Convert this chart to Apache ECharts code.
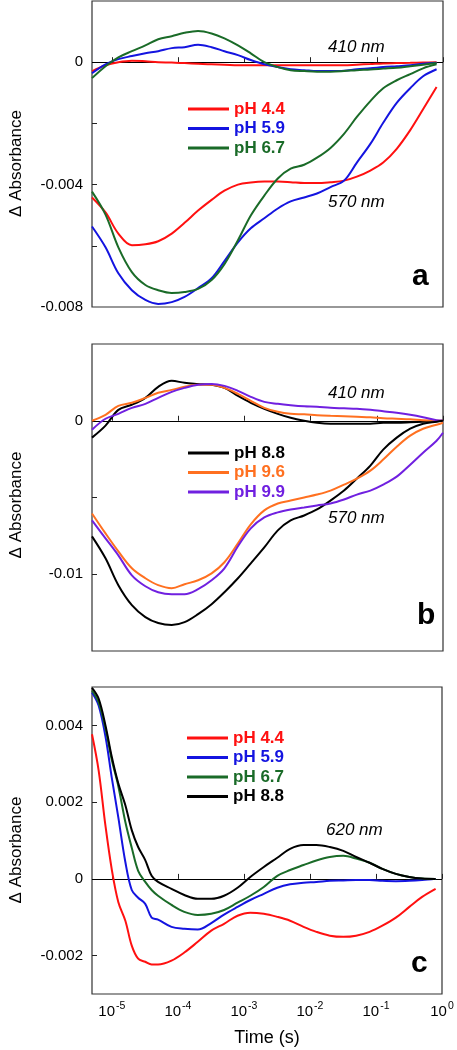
<!DOCTYPE html>
<html>
<head>
<meta charset="utf-8">
<script src="https://cdn.jsdelivr.net/npm/echarts@6/dist/echarts.min.js"></script>
<style>html,body{margin:0;padding:0;background:#fff}#c{width:457px;height:1050px}</style>
</head>
<body>
<div id="c"></div>
<script>
// ---- time axes (s) ----
const timeA = [5e-6, 8e-6, 1.25e-5, 2e-5, 3.2e-5, 5e-5, 8e-5, 1.25e-4, 2e-4, 3.2e-4, 5e-4, 8e-4, 1.25e-3, 2e-3, 3.2e-3, 5e-3, 8e-3, 1.25e-2, 2e-2, 3.2e-2, 5e-2, 8e-2, 0.125, 0.2, 0.32, 0.5, 0.8];
const timeB = [5e-6, 8e-6, 1.25e-5, 2e-5, 3.2e-5, 5e-5, 8e-5, 1.25e-4, 2e-4, 3.2e-4, 5e-4, 8e-4, 1.25e-3, 2e-3, 3.2e-3, 5e-3, 8e-3, 1.25e-2, 2e-2, 3.2e-2, 5e-2, 8e-2, 0.125, 0.2, 0.32, 0.5, 0.8, 1.0];
const timeC = [5e-6, 6.3e-6, 8e-6, 1e-5, 1.25e-5, 1.6e-5, 2e-5, 2.5e-5, 3.2e-5, 4e-5, 5e-5, 8e-5, 1.25e-4, 2e-4, 3.2e-4, 5e-4, 8e-4, 1.25e-3, 2e-3, 3.2e-3, 5e-3, 8e-3, 1.25e-2, 2e-2, 3.2e-2, 5e-2, 8e-2, 0.125, 0.2, 0.32, 0.5, 0.8];

// ---- panel a ----
const a570_pH44 = [-0.00442, -0.00491, -0.0056, -0.00598, -0.00595, -0.00585, -0.0056, -0.00525, -0.00485, -0.0045, -0.0042, -0.0040, -0.00393, -0.0039, -0.0039, -0.00392, -0.00395, -0.00395, -0.00392, -0.00387, -0.00374, -0.00354, -0.00328, -0.00283, -0.00222, -0.00154, -0.00081];
const a570_pH59 = [-0.00537, -0.00605, -0.0069, -0.00745, -0.00777, -0.0079, -0.00784, -0.00767, -0.00738, -0.00706, -0.0065, -0.00589, -0.00543, -0.0051, -0.00478, -0.00455, -0.00442, -0.00429, -0.00408, -0.00387, -0.00328, -0.00267, -0.00198, -0.00133, -0.00085, -0.00046, -0.00023];
const a570_pH67 = [-0.00423, -0.00498, -0.00605, -0.00686, -0.00728, -0.00745, -0.00754, -0.00751, -0.00741, -0.00712, -0.0066, -0.00582, -0.00501, -0.00436, -0.0038, -0.00348, -0.00335, -0.00312, -0.0028, -0.00234, -0.00179, -0.00127, -0.00085, -0.00059, -0.00039, -0.0002, -0.00007];
const a410_pH44 = [-0.0003, -0.0001, 0.0, 0.00005, 0.00003, 0.0, -0.00001, -0.00003, -0.00005, -0.00007, -0.00008, -0.0001, -0.0001, -0.0001, -0.0001, -0.0001, -0.0001, -0.0001, -0.0001, -0.0001, -0.00008, -0.00006, -0.00004, -0.00003, -0.00002, -0.00001, 0];
const a410_pH59 = [-0.00036, -0.00007, 0.0001, 0.0002, 0.00029, 0.00036, 0.00046, 0.00049, 0.00057, 0.00049, 0.00036, 0.00023, 0.00007, -0.00007, -0.00016, -0.00023, -0.00026, -0.00029, -0.00029, -0.00028, -0.00023, -0.0002, -0.00016, -0.00013, -0.0001, -0.00005, -0.00002];
const a410_pH67 = [-0.00052, -0.00013, 0.00016, 0.00036, 0.00055, 0.00075, 0.00085, 0.00096, 0.00102, 0.00094, 0.00078, 0.00055, 0.00029, 0.0, -0.00016, -0.00026, -0.00029, -0.00031, -0.00031, -0.00029, -0.00026, -0.00024, -0.00021, -0.00018, -0.00013, -0.00008, -0.00003];

// ---- panel b ----
const b570_pH88 = [-0.00753, -0.00896, -0.01071, -0.01201, -0.01279, -0.01318, -0.01331, -0.01312, -0.0126, -0.01195, -0.01117, -0.01026, -0.00929, -0.00825, -0.00714, -0.00649, -0.00617, -0.00578, -0.0052, -0.00455, -0.00377, -0.00292, -0.00188, -0.0011, -0.00052, -0.00019, -0.00006, 0];
const b570_pH96 = [-0.00604, -0.00734, -0.00851, -0.00961, -0.01026, -0.01071, -0.01091, -0.01065, -0.01039, -0.00994, -0.00922, -0.00799, -0.00675, -0.00584, -0.00539, -0.0052, -0.005, -0.00481, -0.00455, -0.00416, -0.00377, -0.00325, -0.00253, -0.00169, -0.00097, -0.00052, -0.00026, -0.00013];
const b570_pH99 = [-0.00649, -0.00766, -0.00877, -0.01007, -0.01078, -0.01117, -0.0113, -0.0113, -0.01097, -0.01039, -0.00961, -0.00818, -0.00701, -0.0063, -0.00597, -0.00578, -0.00565, -0.00552, -0.00539, -0.00513, -0.00481, -0.00455, -0.00416, -0.00364, -0.00286, -0.00208, -0.0013, -0.00078];
const b410_pH88 = [-0.0011, -0.00032, 0.00071, 0.00104, 0.00149, 0.00221, 0.0026, 0.00247, 0.0024, 0.00234, 0.00214, 0.00162, 0.00117, 0.00078, 0.00045, 0.00019, 0, -0.00013, -0.00019, -0.00019, -0.00019, -0.00019, -0.00013, -0.00013, -0.0001, -0.00006, -0.00003, 0];
const b410_pH96 = [0.0, 0.00039, 0.00097, 0.00117, 0.00149, 0.00182, 0.00201, 0.00221, 0.00234, 0.00234, 0.00214, 0.00175, 0.0013, 0.00084, 0.00058, 0.00045, 0.00042, 0.00036, 0.00032, 0.00029, 0.00026, 0.00023, 0.00016, 0.00013, 0.0001, 0.00003, 0, 0];
const b410_pH99 = [-0.00058, 0.00013, 0.00045, 0.00084, 0.0011, 0.00149, 0.00188, 0.00214, 0.00234, 0.0024, 0.00227, 0.00195, 0.00156, 0.00123, 0.0011, 0.00101, 0.00094, 0.00091, 0.00084, 0.00081, 0.00078, 0.00071, 0.00062, 0.00052, 0.00039, 0.00023, 0.00003, 0];

// ---- panel c (620 nm) ----
const c620_pH44 = [0.00377, 0.00283, 0.00138, 0.00023, -0.0006, -0.00109, -0.00174, -0.00208, -0.00216, -0.00223, -0.00223, -0.00213, -0.00192, -0.00164, -0.00135, -0.00117, -0.00096, -0.00088, -0.00091, -0.00099, -0.00109, -0.00125, -0.00138, -0.00148, -0.00151, -0.00148, -0.00138, -0.00122, -0.00101, -0.00073, -0.00047, -0.00026];
const c620_pH59 = [0.00486, 0.00452, 0.00371, 0.00262, 0.00161, 0.00044, -0.00029, -0.00049, -0.00065, -0.00101, -0.00106, -0.00125, -0.0013, -0.00132, -0.00115, -0.00093, -0.00073, -0.00055, -0.00039, -0.00023, -0.00014, -0.0001, -0.00008, -0.00005, -0.00004, -0.00003, -0.00003, -0.00005, -0.00006, -0.00005, -0.00003, 0];
const c620_pH67 = [0.00491, 0.0046, 0.00392, 0.00309, 0.00242, 0.00148, 0.00081, 0.00021, -0.00008, -0.00029, -0.00044, -0.00068, -0.00086, -0.00094, -0.00091, -0.00081, -0.00062, -0.00044, -0.00021, 0.00008, 0.00023, 0.00036, 0.00048, 0.00057, 0.0006, 0.00053, 0.00042, 0.00026, 0.00013, 0.00005, 0.00001, 0];
const c620_pH88 = [0.00498, 0.0047, 0.004, 0.00317, 0.00249, 0.00192, 0.00127, 0.00083, 0.00049, 0.00008, -0.00008, -0.00026, -0.00042, -0.00052, -0.00052, -0.00044, -0.00023, 0.00005, 0.00031, 0.00055, 0.00078, 0.00088, 0.00088, 0.00083, 0.00073, 0.00057, 0.00042, 0.00026, 0.00013, 0.00005, 0.00001, 0];

// ---- ticks / labels ----
const xTicks = [1e-5, 1e-4, 1e-3, 1e-2, 1e-1, 1];
const yTicksA = [-0.006, -0.004, -0.002, 0];
const yLabelsA = [-0.008, -0.004, 0];
const yTicksB = [-0.01, -0.005, 0];
const yLabelsB = [-0.01, 0];
const yTicksC = [-0.002, 0, 0.002, 0.004];
const yLabelsC = [-0.002, 0, 0.002, 0.004];

const colors = {
  'pH 4.4': '#ff1010', 'pH 5.9': '#1414e0', 'pH 6.7': '#1a6b28',
  'pH 8.8': '#000000', 'pH 9.6': '#ff7020', 'pH 9.9': '#7020e0'
};
const FONT = 'Liberation Sans, Arial, sans-serif';

const grids = [
  {left: 89, top: 1, width: 354, height: 306},
  {left: 89, top: 344, width: 354, height: 307},
  {left: 87, top: 687, width: 355, height: 307}
];

function zip(t, v) { return t.map((x, i) => [x, v[i]]); }

function xAxis(gi, showLabels) {
  return {
    type: 'log', logBase: 10, gridIndex: gi, min: 5e-6, max: 1,
    axisLine: {show: false},
    axisTick: {show: true, inside: true, length: 5, customValues: xTicks, lineStyle: {color: '#222', width: 1}},
    splitLine: {show: false},
    axisLabel: showLabels ? {
      show: true, customValues: xTicks, margin: 7,
      formatter: v => '{b|10}{s|' + Math.round(Math.log10(v)) + '}',
      rich: {
        b: {fontSize: 15, fontFamily: FONT, color: '#000', lineHeight: 22},
        s: {fontSize: 10.5, fontFamily: FONT, color: '#000', lineHeight: 10, verticalAlign: 'top', padding: [0, 0, 0, 1]}
      }
    } : {show: false},
    name: showLabels ? 'Time (s)' : '',
    nameLocation: 'middle', nameGap: 35,
    nameTextStyle: {fontSize: 18, fontFamily: FONT, color: '#000'}
  };
}
function yAxis(gi, min, max, ticks, labels, pad) {
  return {
    type: 'value', gridIndex: gi, min: min, max: max,
    axisLine: {show: false},
    axisTick: {show: true, inside: true, length: 5, customValues: ticks, lineStyle: {color: '#222', width: 1}},
    splitLine: {show: false},
    axisLabel: {show: true, customValues: labels, margin: 9, fontSize: 15, fontFamily: FONT, color: '#000',
      formatter: v => String(Math.round(v * 1e6) / 1e6)},
    name: 'Δ Absorbance', nameLocation: 'middle', nameGap: 67,
    nameTextStyle: {fontSize: 17, fontFamily: FONT, color: '#000', padding: [0, pad, 0, 0]}
  };
}

function line(name, gi, t, v, withZero) {
  const s = {
    name: name, type: 'line', xAxisIndex: gi, yAxisIndex: gi,
    data: zip(t, v), showSymbol: false, symbol: 'none', smooth: 0.35,
    lineStyle: {color: colors[name], width: 2}, itemStyle: {color: colors[name]},
    z: 3, clip: true
  };
  if (withZero) {
    s.markLine = {silent: true, symbol: 'none', label: {show: false},
      lineStyle: {color: '#000', width: 1, type: 'solid'}, data: [{yAxis: 0}], z: 1};
  }
  return s;
}

function legend(names, left, top) {
  return {
    orient: 'vertical', left: left, top: top, icon: 'rect', itemWidth: 41, itemHeight: 3,
    itemGap: 0.5, selectedMode: false,
    textStyle: {fontSize: 17, fontWeight: 'bold', fontFamily: FONT, lineHeight: 19},
    data: names.map(n => ({name: n, textStyle: {color: colors[n]}}))
  };
}

function label(text, x, y, font, align) {
  return {type: 'text', x: x, y: y, silent: true, z: 10,
    style: {text: text, font: font, fill: '#000', textAlign: align || 'left', textVerticalAlign: 'middle'}};
}

const option = {
  animation: false,
  backgroundColor: '#fff',
  textStyle: {fontFamily: FONT},
  grid: grids.map(g => Object.assign({show: true, borderColor: '#333', borderWidth: 1.2, backgroundColor: 'transparent'}, g)),
  xAxis: [xAxis(0, false), xAxis(1, false), xAxis(2, true)],
  yAxis: [
    yAxis(0, -0.008, 0.002, yTicksA, yLabelsA, 19),
    yAxis(1, -0.015, 0.005, yTicksB, yLabelsB, 15),
    yAxis(2, -0.003, 0.005, yTicksC, yLabelsC, 19)
  ],
  legend: [
    legend(['pH 4.4', 'pH 5.9', 'pH 6.7'], 183, 94.5),
    legend(['pH 8.8', 'pH 9.6', 'pH 9.9'], 183, 438.5),
    legend(['pH 4.4', 'pH 5.9', 'pH 6.7', 'pH 8.8'], 182, 723.5)
  ],
  series: [
    line('pH 4.4', 0, timeA, a410_pH44, true),
    line('pH 5.9', 0, timeA, a410_pH59),
    line('pH 6.7', 0, timeA, a410_pH67),
    line('pH 4.4', 0, timeA, a570_pH44),
    line('pH 5.9', 0, timeA, a570_pH59),
    line('pH 6.7', 0, timeA, a570_pH67),
    line('pH 8.8', 1, timeB, b410_pH88, true),
    line('pH 9.6', 1, timeB, b410_pH96),
    line('pH 9.9', 1, timeB, b410_pH99),
    line('pH 8.8', 1, timeB, b570_pH88),
    line('pH 9.6', 1, timeB, b570_pH96),
    line('pH 9.9', 1, timeB, b570_pH99),
    line('pH 4.4', 2, timeC, c620_pH44, true),
    line('pH 5.9', 2, timeC, c620_pH59),
    line('pH 6.7', 2, timeC, c620_pH67),
    line('pH 8.8', 2, timeC, c620_pH88)
  ],
  graphic: [
    label('410 nm', 328, 47, 'italic 17px ' + FONT),
    label('570 nm', 328, 202, 'italic 17px ' + FONT),
    label('410 nm', 328, 393, 'italic 17px ' + FONT),
    label('570 nm', 328, 518, 'italic 17px ' + FONT),
    label('620 nm', 326, 830, 'italic 17px ' + FONT),
    label('a', 412, 277, 'bold 30px ' + FONT),
    label('b', 417, 616, 'bold 30px ' + FONT),
    label('c', 411, 964, 'bold 30px ' + FONT)
  ]
};

const chart = echarts.init(document.getElementById('c'), null, {renderer: 'canvas'});
chart.setOption(option);
</script>
</body>
</html>
